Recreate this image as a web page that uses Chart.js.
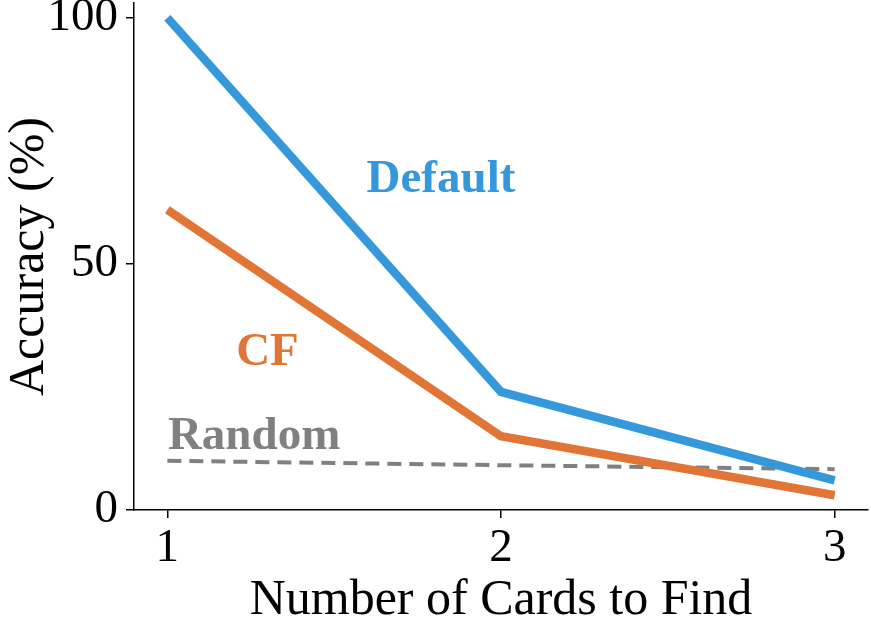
<!DOCTYPE html>
<html>
<head>
<meta charset="utf-8">
<script src="https://cdn.jsdelivr.net/npm/chart.js@4/dist/chart.umd.min.js"></script>
<style>
  html, body { margin: 0; padding: 0; background: #fff; }
  #wrap { width: 871px; height: 619px; }
</style>
</head>
<body>
<div id="wrap"><canvas id="accChart"></canvas></div>
<script>
// data
const cardCounts = [1, 2, 3];
const defaultAcc = [100, 24, 6];
const cfAcc = [61, 15, 3];
const randomAcc = [10, 9.1, 8.3];
const yTicks = [0, 50, 100];

const SERIF = "'Liberation Serif', 'Times New Roman', serif";
const BLUE = '#3498db';
const ORANGE = '#e07535';
const GREY = '#808080';

const pts = (ys) => cardCounts.map((x, i) => ({ x: x, y: ys[i] }));

// text labels placed next to the lines (data coords)
const lineLabels = [
    { text: 'Default', x: 1.82, y: 67, color: BLUE },
    { text: 'CF', x: 1.30, y: 32, color: ORANGE },
    { text: 'Random', x: 1.26, y: 14.8, color: GREY }
];

const labelPlugin = {
    id: 'lineLabels',
    afterDatasetsDraw(chart) {
        const c = chart.ctx;
        const xs = chart.scales.x, ys = chart.scales.y;
        c.save();
        c.font = 'bold 47px ' + SERIF;
        c.textAlign = 'center';
        c.textBaseline = 'middle';
        lineLabels.forEach(l => {
            c.fillStyle = l.color;
            c.fillText(l.text, xs.getPixelForValue(l.x), ys.getPixelForValue(l.y));
        });
        c.restore();
    }
};

const ctx = document.getElementById('accChart').getContext('2d');
new Chart(ctx, {
    type: 'line',
    data: {
        datasets: [
            {
                label: 'Default',
                data: pts(defaultAcc),
                borderColor: BLUE,
                borderWidth: 8.5,
                pointRadius: 0,
                fill: false
            },
            {
                label: 'CF',
                data: pts(cfAcc),
                borderColor: ORANGE,
                borderWidth: 8.5,
                pointRadius: 0,
                fill: false
            },
            {
                label: 'Random',
                data: pts(randomAcc),
                borderColor: GREY,
                borderWidth: 4,
                borderDash: [14, 8],
                pointRadius: 0,
                fill: false
            }
        ]
    },
    options: {
        responsive: true,
        maintainAspectRatio: false,
        animation: false,
        layout: { padding: { top: 3, right: 3, left: 0, bottom: 0 } },
        scales: {
            x: {
                type: 'linear',
                min: 0.9,
                max: 3.1,
                afterBuildTicks: (s) => { s.ticks = cardCounts.map(v => ({ value: v })); },
                afterFit: (s) => { s.height = 109; s.paddingLeft = 0; s.paddingRight = 0; },
                ticks: {
                    color: '#000',
                    font: { family: SERIF, size: 47 },
                    padding: 2
                },
                grid: {
                    drawOnChartArea: false,
                    drawTicks: true,
                    tickLength: 8,
                    color: '#000',
                    lineWidth: 1.5
                },
                border: { display: true, color: '#000', width: 1.5 },
                title: {
                    display: true,
                    text: 'Number of Cards to Find',
                    color: '#000',
                    font: { family: SERIF, size: 50 },
                    padding: { top: 0, bottom: -12 }
                }
            },
            y: {
                min: 0,
                max: 103,
                afterBuildTicks: (s) => { s.ticks = yTicks.map(v => ({ value: v })); },
                afterFit: (s) => { s.width = 134; s.paddingTop = 0; s.paddingBottom = 0; },
                ticks: {
                    color: '#000',
                    font: { family: SERIF, size: 47 },
                    padding: 8
                },
                grid: {
                    drawOnChartArea: false,
                    drawTicks: true,
                    tickLength: 8,
                    color: '#000',
                    lineWidth: 1.5
                },
                border: { display: true, color: '#000', width: 1.5 },
                title: {
                    display: true,
                    text: 'Accuracy (%)',
                    color: '#000',
                    font: { family: SERIF, size: 50 },
                    padding: { top: 0, bottom: 0 }
                }
            }
        },
        plugins: {
            legend: { display: false },
            tooltip: { enabled: false }
        }
    },
    plugins: [labelPlugin]
});
</script>
</body>
</html>
